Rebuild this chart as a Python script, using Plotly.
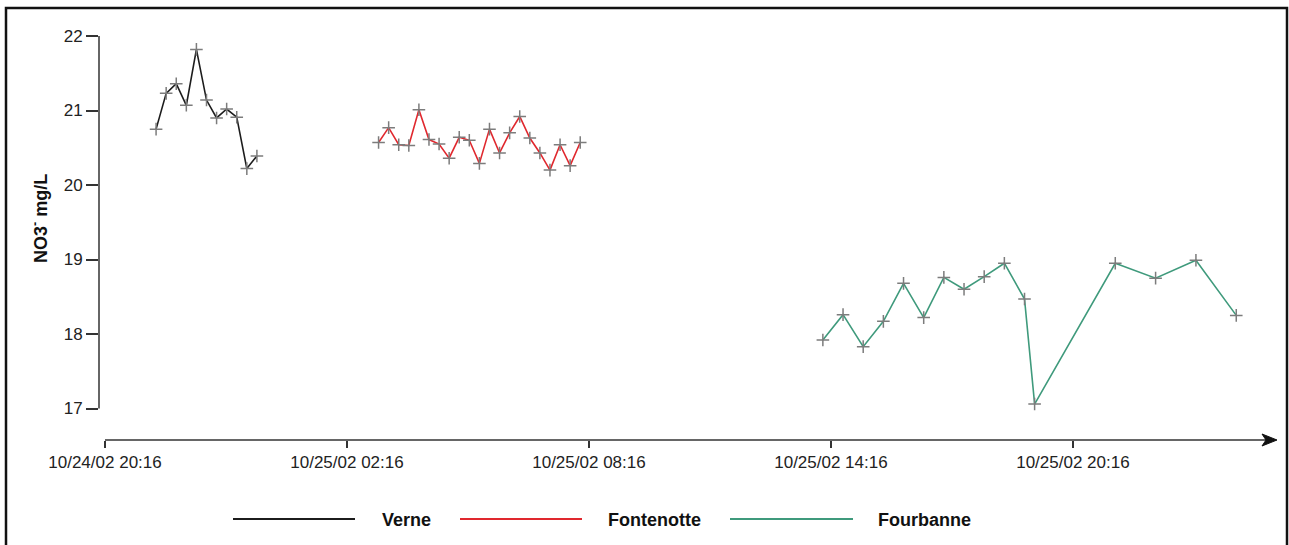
import plotly.graph_objects as go
import datetime as dt

# Nitrate concentration time series at three springs
verne_time = ["2002-10-24 21:32", "2002-10-24 21:47", "2002-10-24 22:02", "2002-10-24 22:17",
              "2002-10-24 22:32", "2002-10-24 22:47", "2002-10-24 23:02", "2002-10-24 23:17",
              "2002-10-24 23:32", "2002-10-24 23:47", "2002-10-25 00:02"]
verne_no3 = [20.75, 21.23, 21.36, 21.07, 21.82, 21.14, 20.90, 21.02, 20.91, 20.22, 20.39]

fontenotte_time = ["2002-10-25 03:03", "2002-10-25 03:18", "2002-10-25 03:33", "2002-10-25 03:48",
                   "2002-10-25 04:03", "2002-10-25 04:18", "2002-10-25 04:33", "2002-10-25 04:48",
                   "2002-10-25 05:03", "2002-10-25 05:18", "2002-10-25 05:33", "2002-10-25 05:48",
                   "2002-10-25 06:03", "2002-10-25 06:18", "2002-10-25 06:33", "2002-10-25 06:48",
                   "2002-10-25 07:03", "2002-10-25 07:18", "2002-10-25 07:33", "2002-10-25 07:48",
                   "2002-10-25 08:03"]
fontenotte_no3 = [20.57, 20.77, 20.54, 20.53, 21.01, 20.61, 20.55, 20.36, 20.64, 20.60, 20.29,
                  20.75, 20.43, 20.70, 20.92, 20.63, 20.43, 20.20, 20.54, 20.26, 20.57]

fourbanne_time = ["2002-10-25 14:04", "2002-10-25 14:34", "2002-10-25 15:04", "2002-10-25 15:34",
                  "2002-10-25 16:04", "2002-10-25 16:34", "2002-10-25 17:04", "2002-10-25 17:34",
                  "2002-10-25 18:04", "2002-10-25 18:34", "2002-10-25 19:04", "2002-10-25 19:19",
                  "2002-10-25 21:19", "2002-10-25 22:19", "2002-10-25 23:19", "2002-10-26 00:19"]
fourbanne_no3 = [17.92, 18.26, 17.83, 18.17, 18.68, 18.22, 18.76, 18.60, 18.77, 18.95, 18.47,
                 17.06, 18.95, 18.75, 18.99, 18.25]

x_tick_vals = ["2002-10-24 20:16", "2002-10-25 02:16", "2002-10-25 08:16",
               "2002-10-25 14:16", "2002-10-25 20:16"]
x_tick_text = ["10/24/02 20:16", "10/25/02 02:16", "10/25/02 08:16",
               "10/25/02 14:16", "10/25/02 20:16"]
y_tick_vals = [17, 18, 19, 20, 21, 22]

series_names = ["Verne", "Fontenotte", "Fourbanne"]
series_colors = ["#1c1c1c", "#e0282e", "#3f9a7c"]

FONT = "Liberation Sans, Arial, sans-serif"
W, H = 1289, 545
ML, MR, MT, MB = 99, 9, 36, 105
PW, PH = W - ML - MR, H - MT - MB


def px_x(p):
    return (p - ML) / PW


def px_y(p):
    return (H - MB - p) / PH


fig = go.Figure()
for name, t, v, c in zip(series_names,
                         [verne_time, fontenotte_time, fourbanne_time],
                         [verne_no3, fontenotte_no3, fourbanne_no3],
                         series_colors):
    fig.add_trace(go.Scatter(
        x=t, y=v, name=name, mode="lines+markers",
        line=dict(color=c, width=1.6),
        marker=dict(symbol="cross-thin", size=9, color="#7c7c7c",
                    line=dict(color="#7c7c7c", width=1.5)),
        showlegend=False, cliponaxis=False,
    ))

# x range: axis origin 20:16 sits 6 px right of the plot edge; 40.33 px per hour
px_per_hour = 40.33
origin = dt.datetime(2002, 10, 24, 20, 16)
x0 = origin - dt.timedelta(hours=6 / px_per_hour)
x1 = x0 + dt.timedelta(hours=PW / px_per_hour)

y_top = 22.0
y_bot = 22.0 - PH / 74.5

fig.update_layout(
    width=W, height=H,
    margin=dict(l=ML, r=MR, t=MT, b=MB),
    paper_bgcolor="white", plot_bgcolor="white",
    font=dict(family=FONT, size=17, color="#222"),
    xaxis=dict(type="date", range=[x0, x1], showgrid=False, zeroline=False,
               showline=False, tickmode="array", tickvals=x_tick_vals,
               ticktext=x_tick_text, ticks="outside", ticklen=7, tickwidth=1.5,
               tickcolor="#333", tickfont=dict(family=FONT, size=17, color="#222")),
    yaxis=dict(range=[y_bot, y_top], showgrid=False, zeroline=False,
               showline=False, tickmode="array", tickvals=y_tick_vals,
               ticks="outside", ticklen=12, tickwidth=1.5, tickcolor="#333",
               tickfont=dict(family=FONT, size=17, color="#222")),
    showlegend=False,
)

shapes = []
# y axis line between 17 and 22
shapes.append(dict(type="line", xref="paper", yref="y", x0=0, x1=0, y0=17, y1=22,
                   line=dict(color="#333", width=1.5)))
# x axis line from the origin tick, ending in a filled arrowhead
shapes.append(dict(type="line", xref="paper", yref="paper",
                   x0=px_x(105), x1=px_x(1268), y0=0, y1=0,
                   line=dict(color="#333", width=1.5)))
head = [(1277, 440), (1262, 434), (1266, 440), (1262, 446)]
path = "M " + " L ".join(f"{px_x(a):.5f},{px_y(b):.5f}" for a, b in head) + " Z"
shapes.append(dict(type="path", xref="paper", yref="paper", path=path,
                   fillcolor="#111", line=dict(color="#111", width=1)))
# outer frame
shapes.append(dict(type="rect", xref="paper", yref="paper",
                   x0=px_x(6), x1=px_x(1287), y0=px_y(560), y1=px_y(8),
                   line=dict(color="#111", width=2.5)))

# legend drawn as plain line samples and bold labels
legend_lines = [(233, 355), (460, 582), (730, 853)]
legend_text_x = [380, 606, 876]
annotations = []
for (a, b), tx, name, c in zip(legend_lines, legend_text_x, series_names, series_colors):
    shapes.append(dict(type="line", xref="paper", yref="paper",
                       x0=px_x(a), x1=px_x(b), y0=px_y(519), y1=px_y(519),
                       line=dict(color=c, width=1.8)))
    annotations.append(dict(xref="paper", yref="paper", x=px_x(tx), y=px_y(520),
                            xanchor="left", yanchor="middle", showarrow=False,
                            text=f"<b>{name}</b>",
                            font=dict(family=FONT, size=18, color="#111")))

# y axis title
annotations.append(dict(xref="paper", yref="paper", x=px_x(40), y=px_y(219),
                        xanchor="center", yanchor="middle", showarrow=False,
                        textangle=-90, text="<b>NO3<sup>-</sup> mg/L</b>",
                        font=dict(family=FONT, size=18, color="#111")))

fig.update_layout(shapes=shapes, annotations=annotations)
fig.write_html("out.html")
